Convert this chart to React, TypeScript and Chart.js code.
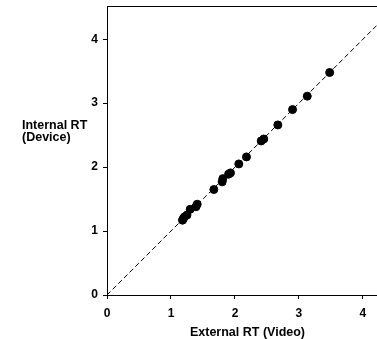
import React, { useEffect, useRef } from "react";
import { Chart, registerables } from "chart.js";

Chart.register(...registerables);

const externalRT = [3.48, 3.13, 2.9, 2.67, 2.45, 2.41, 2.18, 2.06, 1.93, 1.9, 1.81, 1.8, 1.67, 1.41, 1.39, 1.3, 1.25, 1.21, 1.19, 1.18];
const internalRT = [3.48, 3.11, 2.9, 2.66, 2.44, 2.41, 2.16, 2.05, 1.91, 1.89, 1.82, 1.77, 1.65, 1.42, 1.38, 1.34, 1.25, 1.22, 1.19, 1.17];
const xTicks = [0, 1, 2, 3, 4];
const yTicks = [0, 1, 2, 3, 4];
const xMax = 4.22;
const yMax = 4.52;
const identityLine = [0, xMax];
const xTitle = "External RT (Video)";
const yTitle = ["Internal RT", "(Device)"];

const FONT_FAMILY = "'Liberation Sans', Arial, sans-serif";

const titlePlugin = {
  id: "customTitles",
  afterDraw(chart: any) {
    const { ctx, chartArea } = chart;
    ctx.save();
    ctx.fillStyle = "#000";
    ctx.strokeStyle = "#000";
    ctx.lineWidth = 1;
    // top border
    ctx.beginPath();
    ctx.moveTo(chartArea.left, Math.round(chartArea.top) + 0.5);
    ctx.lineTo(chartArea.right, Math.round(chartArea.top) + 0.5);
    ctx.stroke();
    ctx.font = `bold 12.5px ${FONT_FAMILY}`;
    // x title
    ctx.textAlign = "center";
    ctx.textBaseline = "middle";
    ctx.fillText(xTitle, 247.5, 333);
    // y title
    ctx.textAlign = "left";
    yTitle.forEach((line, i) => {
      ctx.fillText(line, 22, 126 + i * 11.5);
    });
    ctx.restore();
  },
};

export default function App() {
  const canvasRef = useRef<HTMLCanvasElement | null>(null);

  useEffect(() => {
    if (!canvasRef.current) return;
    const tickFont = { family: FONT_FAMILY, size: 12, weight: "bold" as const };
    const chart = new Chart(canvasRef.current, {
      type: "scatter",
      data: {
        datasets: [
          {
            type: "scatter",
            data: externalRT.map((x, i) => ({ x, y: internalRT[i] })),
            backgroundColor: "#000",
            borderColor: "#000",
            pointRadius: 4,
            pointHoverRadius: 4,
            order: 0,
          },
          {
            type: "line",
            data: identityLine.map((v) => ({ x: v, y: v })),
            borderColor: "#000",
            borderWidth: 1,
            borderDash: [5, 3],
            pointRadius: 0,
            fill: false,
            order: 1,
          } as any,
        ],
      },
      options: {
        animation: false,
        responsive: false,
        layout: { autoPadding: false, padding: { top: 6, left: 0, right: 0, bottom: 0 } },
        plugins: { legend: { display: false }, tooltip: { enabled: false } },
        scales: {
          x: {
            type: "linear",
            min: 0,
            max: xMax,
            afterBuildTicks: (scale: any) => {
              scale.ticks = xTicks.map((v) => ({ value: v }));
            },
            afterFit: (scale: any) => {
              scale.height = 44;
              scale.paddingLeft = 0;
              scale.paddingRight = 0;
            },
            ticks: { font: tickFont, color: "#000", padding: 7, maxRotation: 0, callback: (v: any) => String(v) },
            grid: { drawOnChartArea: false, drawTicks: true, tickLength: 4, color: "#000", tickColor: "#000" },
            border: { display: true, color: "#000", width: 1 },
          },
          y: {
            type: "linear",
            min: 0,
            max: yMax,
            afterBuildTicks: (scale: any) => {
              scale.ticks = yTicks.map((v) => ({ value: v }));
            },
            afterFit: (scale: any) => {
              scale.width = 107;
              scale.paddingTop = 0;
              scale.paddingBottom = 0;
            },
            ticks: { font: tickFont, color: "#000", padding: 5, callback: (v: any) => String(v) },
            grid: { drawOnChartArea: false, drawTicks: true, tickLength: 4, color: "#000", tickColor: "#000" },
            border: { display: true, color: "#000", width: 1 },
          },
        },
      },
      plugins: [titlePlugin],
    });
    return () => chart.destroy();
  }, []);

  return (
    <div style={{ position: "fixed", left: 0, top: 0, width: 377, height: 339, background: "#fff" }}>
      <canvas ref={canvasRef} width={377} height={339} style={{ display: "block" }} />
    </div>
  );
}
